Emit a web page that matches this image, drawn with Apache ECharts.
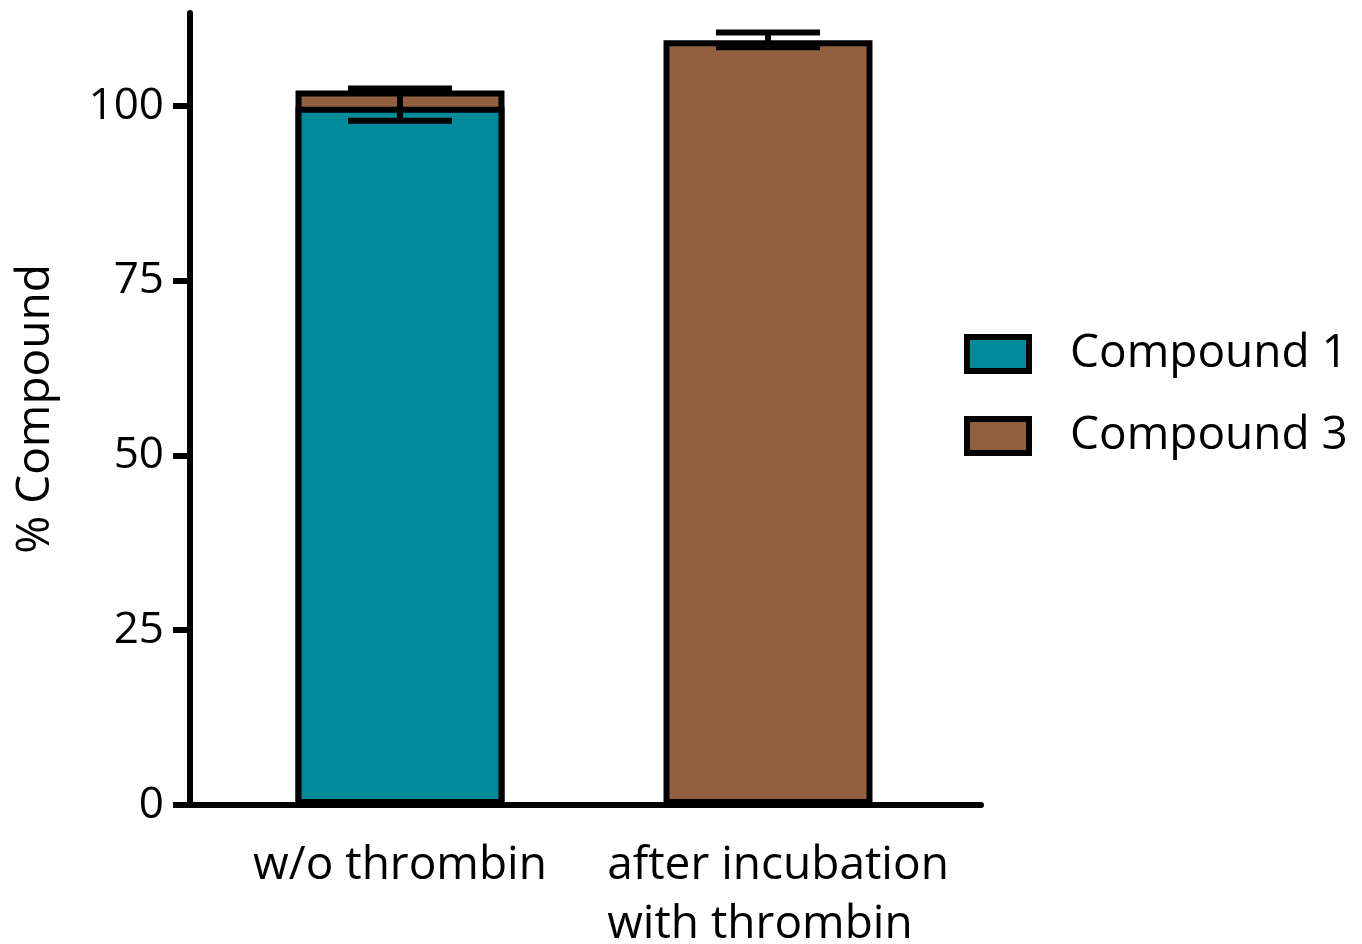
<!DOCTYPE html>
<html>
<head>
<meta charset="utf-8">
<script src="https://cdn.jsdelivr.net/npm/echarts@6/dist/echarts.min.js"></script>
<style>html,body{margin:0;padding:0;background:#fff}#c{width:1362px;height:944px}</style>
</head>
<body>
<div id="c"></div>
<script>
var categories = ['w/o thrombin', 'after incubation\nwith thrombin'];
var compound1 = [99.9, 0];
var compound3 = [2.3, 109.4];
var errLow = [97.9, 108.4];
var errHigh = [102.5, 110.5];
var yTicks = [0, 25, 50, 75, 100];
var seriesNames = ['Compound 1', 'Compound 3'];

var FONT = '"Open Sans", sans-serif';
var Y_MAX = 113.3;
// stacked top of each bar (compound 3 sits on compound 1)
var stackTop = compound1.map(function (v, i) { return v + compound3[i]; });
var chart = echarts.init(document.getElementById('c'));

chart.setOption({
  animation: false,
  grid: [
    { left: 216, right: 410, top: 13, bottom: 139, containLabel: false, outerBoundsMode: 'none' },
    { left: 190, right: 381, top: 13, bottom: 139, containLabel: false, outerBoundsMode: 'none' }
  ],
  xAxis: [
    {
      gridIndex: 0, type: 'category', data: categories, boundaryGap: true,
      axisLine: { show: false }, axisTick: { show: false }, splitLine: { show: false },
      axisLabel: {
        interval: 0, margin: 31,
        color: '#000', fontFamily: FONT, fontSize: 46, lineHeight: 59,
        formatter: function (v) {
          var lines = String(v).split('\n');
          var key = lines.length > 1 ? 'm' : 'l';
          return lines.map(function (l) { return '{' + key + '|' + l + '}'; }).join('\n');
        },
        rich: {
          l: { align: 'left', color: '#000', fontFamily: FONT, fontSize: 46, lineHeight: 59 },
          m: { align: 'left', color: '#000', fontFamily: FONT, fontSize: 46, lineHeight: 59, padding: [0, 0, 0, 20] }
        }
      }
    },
    {
      gridIndex: 1, type: 'value', min: 0, max: 1,
      splitLine: { show: false },
      axisLine: { show: true, onZero: false, lineStyle: { color: '#000', width: 6 } },
      axisTick: { show: false }, axisLabel: { show: false }
    }
  ],
  yAxis: [
    {
      gridIndex: 0, type: 'value', min: 0, max: Y_MAX, show: false,
      splitLine: { show: false }
    },
    {
      gridIndex: 1, type: 'value', min: 0, max: Y_MAX,
      name: '% Compound', nameLocation: 'middle', nameGap: 131,
      nameTextStyle: { color: '#000', fontFamily: FONT, fontSize: 46 },
      splitLine: { show: false },
      axisLine: { show: true, lineStyle: { color: '#000', width: 6 } },
      axisTick: { show: true, length: 17, customValues: yTicks, lineStyle: { color: '#000', width: 6 } },
      axisLabel: { customValues: yTicks, margin: 26, color: '#000', fontFamily: FONT, fontSize: 44 }
    }
  ],
  legend: {
    orient: 'vertical', left: 959, top: 326,
    itemWidth: 62, itemHeight: 34, itemGap: 36, icon: 'rect',
    itemStyle: { borderColor: '#000', borderWidth: 6 },
    data: seriesNames,
    textStyle: { color: '#000', fontFamily: FONT, fontSize: 46, lineHeight: 46, padding: [0, 0, 0, 36] }
  },
  series: [
    {
      name: seriesNames[1], type: 'bar', barWidth: 209, barGap: '-100%',
      xAxisIndex: 0, yAxisIndex: 0,
      data: stackTop,
      itemStyle: { color: '#925f41', borderColor: '#000', borderWidth: 6 }
    },
    {
      name: seriesNames[0], type: 'bar', barWidth: 209, barGap: '-100%',
      xAxisIndex: 0, yAxisIndex: 0,
      data: compound1,
      itemStyle: { color: '#008b9b', borderColor: '#000', borderWidth: 6 }
    },
    {
      type: 'custom', z: 10, silent: true,
      xAxisIndex: 0, yAxisIndex: 0,
      dimensions: ['x', 'lo', 'hi'],
      encode: { x: 0, y: [1, 2] },
      data: errLow.map(function (lo, i) { return [i, lo, errHigh[i]]; }),
      renderItem: function (params, api) {
        var x = api.value(0);
        var lo = api.coord([x, api.value(1)]);
        var hi = api.coord([x, api.value(2)]);
        var hw = 52;
        var st = { stroke: '#000', lineWidth: 6 };
        return {
          type: 'group',
          children: [
            { type: 'line', shape: { x1: lo[0], y1: lo[1], x2: hi[0], y2: hi[1] }, style: st },
            { type: 'line', shape: { x1: lo[0] - hw, y1: lo[1], x2: lo[0] + hw, y2: lo[1] }, style: st },
            { type: 'line', shape: { x1: hi[0] - hw, y1: hi[1], x2: hi[0] + hw, y2: hi[1] }, style: st }
          ]
        };
      }
    }
  ]
});
</script>
</body>
</html>
